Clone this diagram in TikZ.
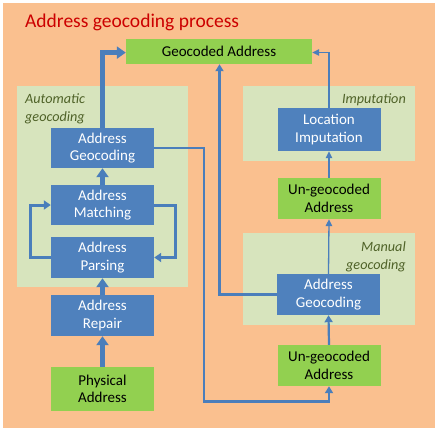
\documentclass[tikz,border=0pt]{standalone}
\usepackage{fontspec}
\setmainfont{Carlito}
\usetikzlibrary{arrows.meta}
\definecolor{bgorange}{RGB}{250,192,143}
\definecolor{panelgreen}{RGB}{215,228,189}
\definecolor{boxblue}{RGB}{79,129,189}
\definecolor{boxgreen}{RGB}{146,208,80}
\definecolor{titlered}{RGB}{204,0,0}
\definecolor{linkblue}{RGB}{74,126,187}
\definecolor{labelolive}{RGB}{79,98,40}
\tikzset{
  bluebox/.style={fill=boxblue, text=white, minimum width=103pt, align=center, inner sep=0pt, font=\fontsize{15}{17.5}\selectfont},
  greenbox/.style={fill=boxgreen, text=black, minimum width=103pt, align=center, inner sep=0pt, font=\fontsize{15}{17.5}\selectfont},
  panel/.style={fill=panelgreen},
  plabel/.style={text=labelolive, font=\fontsize{14.2}{18}\selectfont\itshape, inner sep=0pt},
  thick link/.style={draw=linkblue, line width=4.5pt, -{Triangle[length=9pt,width=12pt]}},
  mid link/.style={draw=linkblue, line width=2.2pt, -{Triangle[length=7pt,width=8pt]}},
  thin link/.style={draw=linkblue, line width=1.3pt, -{Triangle[length=7pt,width=6.5pt]}},
}
\begin{document}
\begin{tikzpicture}[x=1pt,y=-1pt]
\useasboundingbox (0,0) rectangle (438,431);
\fill[white] (0,0) rectangle (438,431);
\fill[bgorange] (3,3) rectangle (435,428);
\node[anchor=west, text=titlered, font=\fontsize{19.5}{24}\selectfont, inner sep=0pt] (title) at (25,22.5) {Address geocoding process};
% panels
\path[panel] (17,86) rectangle (188,287);
\path[panel] (243,86) rectangle (415,161);
\path[panel] (243,233) rectangle (415,325);
\node[plabel, anchor=north west, align=left] (autolbl) at (25,93.5) {Automatic\\geocoding};
\node[plabel, anchor=north east, align=right] (implbl) at (406,93.5) {Imputation};
\node[plabel, anchor=north east, align=right] (manlbl) at (406,241.5) {Manual\\geocoding};
% boxes
\node[greenbox, minimum width=186pt, minimum height=25pt] (geo) at (219,51.5) {Geocoded Address};
\node[bluebox, minimum height=40pt] (lgeo) at (102.5,148) {Address\\Geocoding};
\node[bluebox, minimum height=40pt] (lmatch) at (102.5,205) {Address\\Matching};
\node[bluebox, minimum height=41pt] (lparse) at (102.5,257.5) {Address\\Parsing};
\node[bluebox, minimum height=41pt] (repair) at (102.5,315.5) {Address\\Repair};
\node[greenbox, minimum height=44pt] (phys) at (102.5,389) {Physical\\Address};
\node[bluebox, minimum height=43pt] (imput) at (329,129.5) {Location\\Imputation};
\node[greenbox, minimum height=41pt] (ung1) at (329,198.5) {Un-geocoded\\Address};
\node[bluebox, minimum height=41pt] (rgeo) at (328.5,294.5) {Address\\Geocoding};
\node[greenbox, minimum height=41pt] (ung2) at (329,365.5) {Un-geocoded\\Address};
% connectors
\coordinate (c1) at (102.5,52.6);
\draw[thick link] (lgeo.north) -- (c1) -- (geo.west |- c1);
\draw[thick link] (lmatch.north) -- (lgeo.south);
\draw[thick link] (repair.north) -- (lparse.south);
\draw[thick link] (phys.north) -- (repair.south);
\coordinate (lp1) at (30,257.5);
\coordinate (lp2) at (30,205);
\draw[draw=linkblue, line width=3pt, -{Triangle[length=7pt,width=9pt]}] (lparse.west) -- (lp1) -- (lp2) -- (lmatch.west);
\coordinate (rp1) at (175,205);
\coordinate (rp2) at (175,257.5);
\draw[draw=linkblue, line width=3pt, -{Triangle[length=7pt,width=9pt]}] (lmatch.east) -- (rp1) -- (rp2) -- (lparse.east);
\coordinate (d1) at (204,148);
\coordinate (d2) at (204,401.5);
\coordinate (d3) at (329,401.5);
\draw[mid link] (lgeo.east) -- (d1) -- (d2) -- (d3) -- (ung2.south);
\coordinate (e1) at (219.5,294.5);
\draw[mid link] (rgeo.west) -- (e1) -- (e1 |- geo.south);
\draw[mid link] (ung2.north) -- (rgeo.south);
\draw[thin link] (rgeo.north) -- (ung1.south);
\draw[thin link] (ung1.north) -- (imput.south);
\coordinate (f1) at (329,52.5);
\draw[thin link] (imput.north) -- (f1) -- (geo.east |- f1);
\end{tikzpicture}
\end{document}
